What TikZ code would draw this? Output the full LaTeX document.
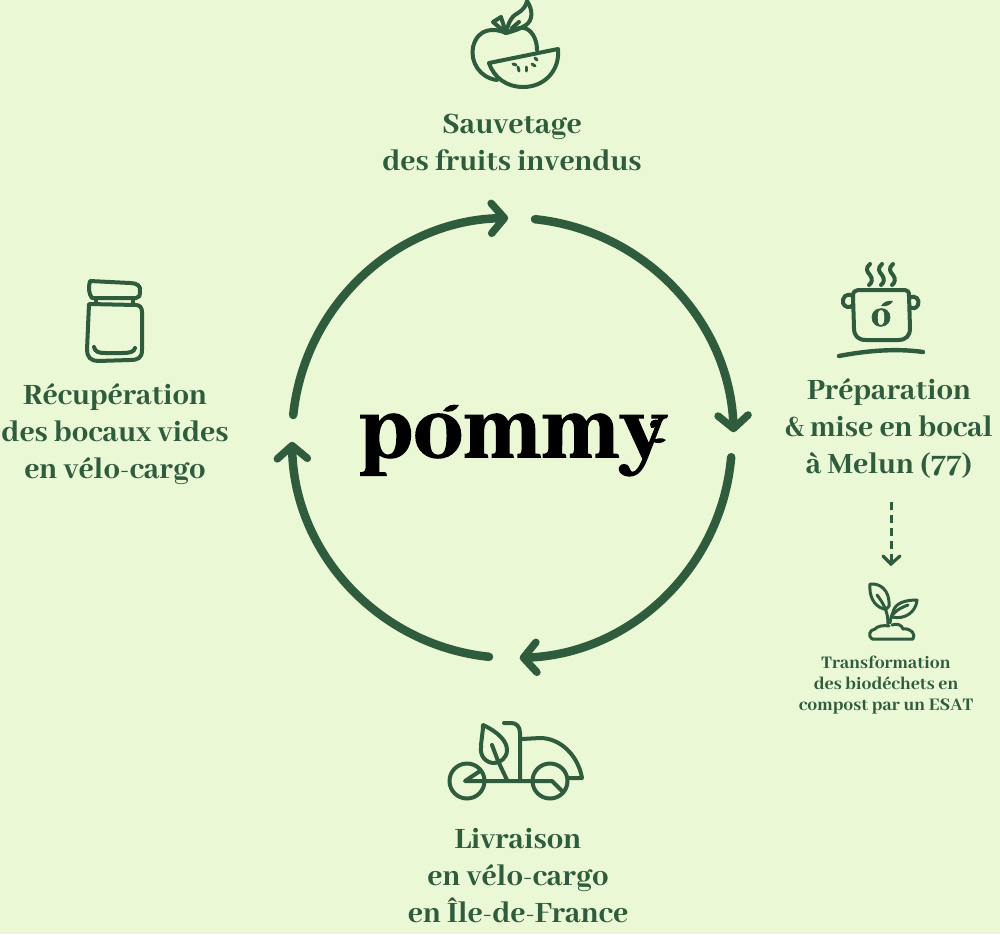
\documentclass[tikz,border=0pt]{standalone}
\usepackage{fontspec}
\setmainfont{Abhaya Libre}[UprightFont=* ExtraBold,BoldFont=* ExtraBold]
\newfontfamily\logofont{Abhaya Libre ExtraBold}[FakeBold=1.6]
\usetikzlibrary{arrows.meta,calc}
\definecolor{bgc}{HTML}{EAF8D6}
\definecolor{gr}{HTML}{2F5C3D}
\tikzset{
 lab/.style={text=gr,align=center,inner sep=0pt,font=\fontsize{32.5}{37}\selectfont},
 smalllab/.style={text=gr,align=center,inner sep=0pt,font=\fontsize{19.5}{21}\selectfont},
 cyc/.style={draw=gr,line width=8.5pt,line cap=round,-{Straight Barb[length=13pt,width=30pt,line width=7.5pt,round]}},
 ico/.style={draw=gr,line width=4pt,line cap=round,line join=round},
 icof/.style={draw=gr,line width=3pt,line cap=round,line join=round},
}
\begin{document}
\begin{tikzpicture}[x=1pt,y=-1pt]
\useasboundingbox (0,0) rectangle (1000,934);
\fill[bgc] (0,0) rectangle (1000,934);
% cycle
\coordinate (c) at (512,438);
\coordinate (a1) at ($(c)+(174:220pt)$);
\coordinate (a2) at ($(c)+(84:220pt)$);
\coordinate (a3) at ($(c)+(-5:220pt)$);
\coordinate (a4) at ($(c)+(-96:220pt)$);
\draw[cyc] (a1) arc[start angle=174,end angle=91,radius=220pt];
\draw[cyc] (a2) arc[start angle=84,end angle=2,radius=222pt];
\draw[cyc] (a3) arc[start angle=-5,end angle=-88,radius=220pt];
\draw[cyc] (a4) arc[start angle=-96,end angle=-179,radius=220pt];
% logo
\node[inner sep=0pt,text=black,font=\logofont\fontsize{99}{99}\selectfont,anchor=base] (logo) at (513,457) {pommy};
\fill[black] (443,411) .. controls (447,405) and (452,404) .. (459,405) .. controls (456,411) and (450,413) .. (443,411) -- cycle;
\fill[black] (650,424) .. controls (651,420) and (655,419) .. (658,420) .. controls (658,425) and (654,429) .. (651,428) -- cycle;
\fill[black] (652,441) .. controls (656,438) and (662,437) .. (666,440) .. controls (662,444) and (656,444) .. (652,441) -- cycle;
% labels
\node[lab] (l1) at (512,142) {Sauvetage\\des fruits invendus};
\node[lab] (l2) at (889,428) {Préparation\\\& mise en bocal\\à Melun (77)};
\node[lab] (l3) at (518,876) {Livraison\\en vélo-cargo\\en Île-de-France};
\node[lab] (l4) at (115,434) {Récupération\\des bocaux vides\\en vélo-cargo};
\node[smalllab] (l5) at (886,685) {Transformation\\des biodéchets en\\compost par un ESAT};
% dashed arrow
\coordinate (d1) at (891,502);
\coordinate (d2) at (891,564);
\draw[gr,line width=3pt,dash pattern=on 8pt off 5pt] (d1) -- (d2);
\draw[gr,line width=3.2pt,line cap=round,line join=miter] (883,556) -- (d2) -- (900,556);
% apple
\draw[ico] (506,33) .. controls (495,28) and (478,27) .. (473,47) .. controls (470,62) and (480,78) .. (497,80);
\draw[ico] (506,33) .. controls (515,29) and (522,26) .. (527,29) .. controls (534,33) and (537,42) .. (537,50);
\draw[ico] (489,63) -- (558,49) .. controls (560,70) and (545,87) .. (523,87) .. controls (507,87) and (494,78) .. (489,63) -- cycle;
\draw[ico] (493,22) -- (501,17) -- (506,33) -- cycle;
\draw[ico] (506,33) .. controls (508,25) and (510,17) .. (518,13) .. controls (523,10) and (526,6) .. (527,1) .. controls (533,10) and (533,20) .. (526,25) .. controls (520,29) and (514,31) .. (506,33);
\draw[ico] (512,28) -- (519,22);
\foreach \a/\b/\e/\f in {513/64/516/65,518/67/519/71,526/67/526/71,532/64/535/66,535/58/537/60}
  \draw[gr,line width=3pt,line cap=round] (\a,\b) -- (\e,\f);
% pot
\draw[ico] (858,290) -- (905,290) .. controls (908,290) and (909,292) .. (909,296) -- (910,328) .. controls (910,336) and (906,340) .. (898,340) -- (866,340) .. controls (858,340) and (854,336) .. (854,328) -- (853,296) .. controls (853,292) and (855,290) .. (858,290) -- cycle;
\draw[ico] (853,296) .. controls (846,292) and (842,298) .. (843,303) .. controls (844,307) and (850,309) .. (853,305);
\draw[ico] (909,298) .. controls (916,294) and (920,300) .. (918,305) .. controls (916,309) and (912,309) .. (910,307);
\foreach \x in {871,883,894}
  \draw[ico] (\x-1,264) .. controls (\x-6,268) and (\x-4,272) .. (\x-1,275) .. controls (\x+2,279) and (\x+1,283) .. (\x-2,285);
\draw[ico,line width=4.4pt] (839,356) .. controls (865,351) and (895,348) .. (923,352);
\node[text=gr,inner sep=0pt,font=\logofont\fontsize{40}{40}\selectfont,anchor=base] (po) at (881,326) {o};
\fill[gr] (881,306) .. controls (883,302) and (888,300) .. (893,301) .. controls (891,305) and (886,307) .. (881,306) -- cycle;
% jar
\draw[ico] (90,281) -- (130,283) .. controls (137,283) and (141,286) .. (140,291) .. controls (140,296) and (139,298) .. (136,298) -- (92,298) .. controls (89,294) and (88,288) .. (90,281) -- cycle;
\draw[ico] (96,298) -- (96,304);
\draw[ico] (133,298) -- (133,304);
\draw[ico] (89,304) -- (136,305) .. controls (140,305) and (142,308) .. (142,312) -- (142,350) .. controls (142,358) and (138,360) .. (130,360) -- (98,361) .. controls (91,361) and (87,357) .. (87,350) -- cycle;
\draw[ico] (94,347) .. controls (95,352) and (99,353) .. (105,353) -- (122,353) .. controls (130,353) and (134,352) .. (135,348);
% sprout
\draw[icof] (870,584) .. controls (880,583) and (890,590) .. (889,606) .. controls (888,608) and (886,610) .. (884,609) .. controls (873,606) and (869,595) .. (870,584) -- cycle;
\draw[icof] (877,595) .. controls (884,604) and (888,612) .. (888,624);
\draw[icof] (917,600) .. controls (905,600) and (895,603) .. (893,612) .. controls (892,615) and (890,620) .. (890,623);
\draw[icof] (917,600) .. controls (916,612) and (905,620) .. (892,617);
\draw[icof] (908,605) .. controls (900,608) and (893,612) .. (891,618);
\draw[icof] (872,639) .. controls (868,636) and (869,630) .. (875,629) .. controls (877,626) and (884,625) .. (889,626);
\draw[icof] (892,625) .. controls (897,623) and (902,625) .. (903,629) .. controls (911,628) and (916,634) .. (913,639) -- (872,639);
% scooter
\coordinate (w1) at (467,781);
\coordinate (w2) at (550,781);
\draw[ico] (w1) circle[radius=17.5pt];
\draw[ico] (w2) circle[radius=17.5pt];
\draw[ico] (480,771) -- (465,781) -- (552,781) -- (562,791);
\draw[ico] (520,781) -- (520,733) .. controls (520,726) and (516,723) .. (511,723) -- (504,723);
\draw[ico] (522,739) -- (540,738) .. controls (560,738) and (578,755) .. (582,778) -- (568,778);
\draw[ico] (483,725) .. controls (498,732) and (507,741) .. (507,750) .. controls (507,758) and (500,763) .. (494,763) .. controls (486,763) and (480,756) .. (481,748) .. controls (481,740) and (483,733) .. (483,725) -- cycle;
\draw[ico] (492,745) -- (498,761) -- (507,780);
\end{tikzpicture}
\end{document}
